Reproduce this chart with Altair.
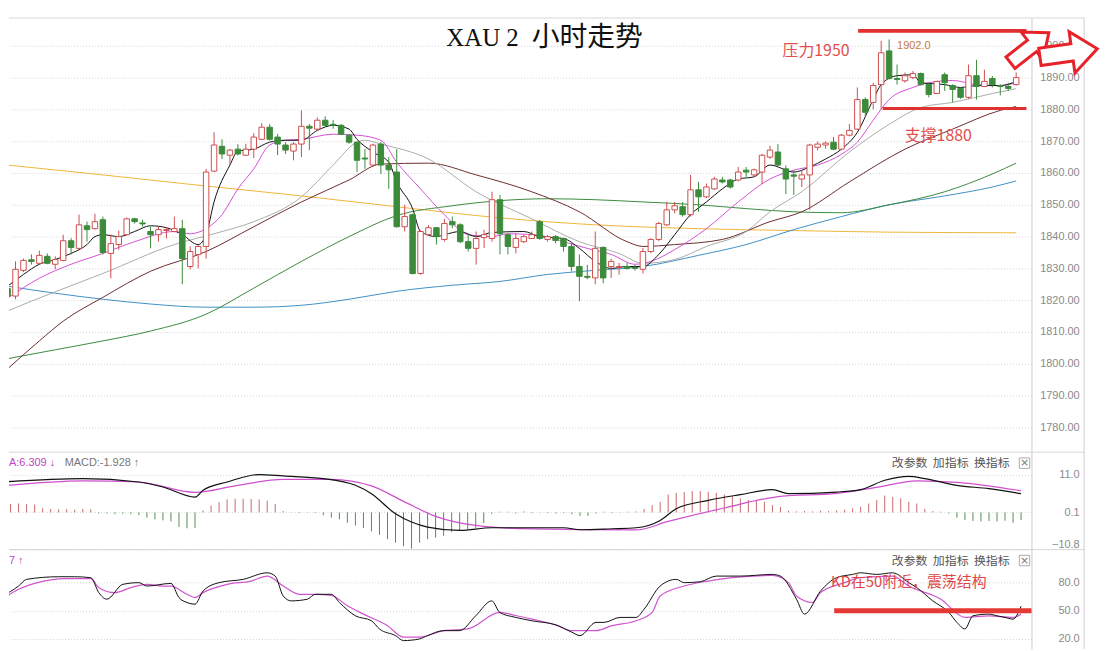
import altair as alt
import pandas as pd

# ---------------- XAU 2h candles ----------------
opens = [1823.7, 1821.3, 1829.4, 1832.7, 1831.6, 1833.8, 1831.3, 1832.5, 1838.7, 1836.3,
         1843.4, 1842.5, 1845.3, 1834.7, 1837.5, 1840.6, 1845.6, 1844.3, 1841.6, 1840.6,
         1841.9, 1841.6, 1842.5, 1830.6, 1834.4, 1836.9, 1860.6, 1868.4, 1865.6, 1867.5,
         1865.6, 1867.5, 1870.6, 1874.4, 1871.3, 1868.8, 1866.9, 1869.1, 1874.7, 1873.8,
         1876.6, 1875.3, 1875.0, 1871.9, 1869.7, 1864.7, 1862.5, 1869.1, 1862.5, 1860.3,
         1843.1, 1846.9, 1828.4, 1840.6, 1842.8, 1839.1, 1844.7, 1843.7, 1838.4, 1836.3,
         1839.7, 1839.4, 1851.6, 1840.6, 1836.6, 1838.4, 1839.4, 1844.7, 1839.1, 1840.0,
         1839.4, 1836.9, 1830.6, 1827.5, 1827.0, 1836.6, 1830.6, 1830.3, 1830.6, 1830.3,
         1829.7, 1835.3, 1839.1, 1843.7, 1848.4, 1849.4, 1846.9, 1854.7, 1852.5, 1855.0,
         1857.8, 1857.8, 1857.8, 1860.9, 1859.4, 1860.3, 1865.0, 1866.6, 1861.3, 1859.4,
         1858.1, 1859.4, 1868.1, 1868.8, 1869.7, 1867.5, 1871.9, 1873.8, 1883.1, 1882.2,
         1887.8, 1898.4, 1889.7, 1889.0, 1890.0, 1891.3, 1887.8, 1885.0, 1890.9, 1887.5,
         1886.6, 1883.8, 1890.6, 1887.2, 1889.7, 1887.5, 1887.2, 1887.8]
highs = [1829.1, 1832.2, 1833.1, 1834.4, 1835.6, 1834.7, 1833.8, 1840.6, 1839.5, 1846.9,
         1844.7, 1847.2, 1846.3, 1840.6, 1841.9, 1846.0, 1845.9, 1845.3, 1843.1, 1843.1,
         1843.0, 1846.3, 1845.3, 1836.9, 1837.4, 1861.3, 1872.8, 1870.6, 1867.6, 1869.1,
         1869.2, 1872.5, 1875.7, 1875.4, 1872.3, 1869.7, 1869.7, 1879.7, 1875.4, 1877.5,
         1877.8, 1876.6, 1875.4, 1872.3, 1869.9, 1867.5, 1869.2, 1869.7, 1865.0, 1867.5,
         1850.0, 1847.2, 1842.0, 1843.6, 1843.0, 1845.6, 1846.3, 1844.2, 1840.5, 1841.6,
         1842.1, 1854.1, 1853.1, 1841.0, 1841.0, 1840.5, 1841.6, 1845.2, 1840.5, 1840.5,
         1839.7, 1837.9, 1834.4, 1831.1, 1841.6, 1836.9, 1833.0, 1831.7, 1831.7, 1831.1,
         1836.4, 1839.5, 1844.7, 1850.9, 1850.9, 1850.9, 1859.4, 1857.2, 1856.7, 1858.8,
         1858.8, 1858.2, 1861.9, 1861.9, 1861.4, 1866.0, 1868.6, 1869.1, 1862.4, 1860.8,
         1860.8, 1869.2, 1869.9, 1869.9, 1871.3, 1872.3, 1875.4, 1886.9, 1883.8, 1888.4,
         1901.6, 1902.0, 1894.1, 1891.6, 1892.1, 1891.6, 1888.4, 1889.0, 1891.6, 1887.9,
         1886.9, 1894.1, 1895.6, 1892.5, 1890.5, 1887.9, 1888.4, 1891.6]
lows = [1819.0, 1820.3, 1828.8, 1831.2, 1831.3, 1831.3, 1829.7, 1832.2, 1834.4, 1836.0,
        1838.4, 1842.2, 1834.4, 1826.9, 1835.9, 1840.3, 1844.1, 1843.1, 1836.3, 1838.4,
        1839.4, 1841.3, 1825.0, 1829.7, 1830.0, 1833.1, 1860.3, 1864.4, 1862.5, 1865.5,
        1865.4, 1864.7, 1870.3, 1870.2, 1865.6, 1866.0, 1864.0, 1865.0, 1867.2, 1873.4,
        1874.4, 1873.9, 1871.9, 1869.2, 1860.3, 1861.3, 1861.9, 1859.7, 1855.0, 1842.8,
        1841.6, 1828.1, 1828.0, 1840.3, 1837.5, 1838.4, 1842.6, 1837.9, 1835.3, 1831.2,
        1836.4, 1838.4, 1834.4, 1834.4, 1834.7, 1838.0, 1839.2, 1839.0, 1838.4, 1837.9,
        1835.3, 1829.1, 1819.7, 1826.6, 1825.0, 1825.3, 1827.0, 1828.0, 1829.6, 1829.3,
        1828.4, 1834.8, 1838.6, 1843.4, 1847.3, 1846.3, 1846.3, 1847.8, 1852.2, 1854.7,
        1856.7, 1855.1, 1857.4, 1858.8, 1858.8, 1856.6, 1864.5, 1862.2, 1853.4, 1853.1,
        1855.6, 1848.4, 1867.1, 1867.6, 1867.2, 1867.1, 1871.5, 1873.5, 1878.0, 1880.0,
        1880.0, 1889.4, 1887.8, 1888.4, 1889.5, 1887.5, 1883.8, 1884.8, 1885.8, 1882.2,
        1883.3, 1883.3, 1883.1, 1887.0, 1886.9, 1884.4, 1885.8, 1887.5]
closes = [1821.3, 1829.7, 1832.5, 1832.2, 1834.1, 1831.6, 1832.8, 1838.7, 1836.6, 1843.7,
          1842.2, 1844.7, 1835.0, 1837.8, 1840.0, 1845.6, 1844.7, 1844.0, 1840.6, 1842.2,
          1842.2, 1842.5, 1833.1, 1835.3, 1836.9, 1860.3, 1868.8, 1866.0, 1867.2, 1866.0,
          1867.5, 1871.3, 1874.4, 1870.6, 1869.1, 1867.2, 1869.1, 1874.7, 1874.1, 1876.6,
          1875.0, 1875.0, 1872.2, 1869.7, 1864.0, 1864.4, 1868.8, 1862.5, 1861.0, 1843.1,
          1846.3, 1828.4, 1841.6, 1842.8, 1840.0, 1844.1, 1843.7, 1838.4, 1836.3, 1839.4,
          1840.6, 1851.6, 1840.9, 1836.9, 1839.4, 1840.0, 1840.6, 1839.4, 1840.0, 1838.8,
          1836.9, 1830.6, 1827.5, 1827.2, 1836.3, 1827.0, 1832.2, 1830.6, 1830.0, 1830.0,
          1835.3, 1839.1, 1844.1, 1848.4, 1849.7, 1846.9, 1854.7, 1852.5, 1855.6, 1858.1,
          1857.2, 1855.6, 1860.3, 1860.3, 1861.0, 1865.6, 1867.2, 1862.5, 1858.1, 1859.0,
          1859.4, 1868.8, 1869.1, 1869.4, 1867.5, 1871.9, 1873.4, 1883.1, 1879.1, 1887.5,
          1897.8, 1889.7, 1889.4, 1890.6, 1891.3, 1887.8, 1884.7, 1888.8, 1888.4, 1886.3,
          1883.8, 1890.6, 1887.2, 1888.8, 1887.8, 1887.2, 1886.6, 1890.0]

# ---------------- moving averages (bar index, value) ----------------
ma_orange_idx = [0, 12, 25, 37, 50, 62, 74, 87, 99, 111, 127]
ma_orange_val = [1862.5, 1859.4, 1855.9, 1852.8, 1849.1, 1845.9, 1843.7, 1842.5, 1841.9, 1841.4, 1841.2]
ma_blue_idx = [0, 6, 12, 18, 25, 31, 37, 43, 49, 56, 62, 68, 74, 80, 87, 93, 99, 105, 111, 118, 124, 127]
ma_blue_val = [1824.4, 1822.2, 1820.3, 1818.8, 1817.8, 1817.8, 1818.4, 1820.3, 1822.8, 1824.7, 1825.9,
               1828.1, 1829.4, 1830.6, 1834.1, 1837.5, 1842.2, 1846.3, 1850.0, 1852.8, 1855.6, 1857.5]
ma_green_idx = [0, 6, 12, 18, 25, 31, 37, 43, 49, 56, 62, 68, 74, 80, 87, 93, 99, 105, 111, 118, 124, 127]
ma_green_val = [1801.6, 1804.4, 1807.2, 1810.3, 1815.6, 1823.8, 1832.2, 1840.0, 1846.6, 1849.7, 1851.3,
                1851.9, 1851.6, 1850.9, 1850.0, 1848.8, 1847.8, 1847.5, 1850.0, 1854.1, 1859.7, 1863.1]
ma_maroon_idx = [0, 4, 7, 12, 18, 25, 31, 37, 43, 47, 53, 59, 66, 72, 78, 80, 84, 90, 96, 100, 106, 113, 119, 125, 127]
ma_maroon_val = [1798.4, 1807.2, 1813.4, 1820.9, 1829.1, 1835.3, 1843.1, 1850.9, 1857.8, 1862.8, 1863.1,
                 1859.4, 1854.1, 1847.8, 1838.4, 1836.9, 1837.5, 1839.1, 1844.7, 1847.8, 1857.2, 1867.5,
                 1873.8, 1879.7, 1880.9]
ma_gray_idx = [0, 3, 12, 21, 26, 31, 37, 41, 44, 45, 47, 53, 59, 66, 72, 77, 80, 84, 88, 93, 96, 100, 106, 111, 115, 119, 124, 127]
ma_gray_val = [1816.6, 1819.7, 1828.4, 1837.5, 1840.9, 1844.7, 1852.5, 1862.5, 1869.7, 1870.3, 1869.1,
               1864.4, 1854.1, 1845.6, 1838.4, 1834.7, 1831.6, 1832.8, 1836.9, 1841.6, 1847.8, 1854.1,
               1866.6, 1875.3, 1880.6, 1882.2, 1885.0, 1886.5]
ma_magenta_idx = [0, 4, 8, 12, 16, 21, 23, 25, 27, 29, 31, 33, 35, 37, 41, 44, 47, 49, 52, 55, 58, 61, 63,
                  68, 70, 73, 76, 79, 81, 84, 88, 92, 96, 99, 102, 105, 107, 109, 111, 114, 116, 119, 122, 125, 127]
ma_magenta_val = [1820.6, 1826.9, 1831.3, 1834.7, 1838.4, 1841.6, 1840.9, 1842.5, 1846.9, 1855.0, 1861.3,
                  1868.8, 1870.3, 1870.6, 1872.2, 1871.9, 1870.3, 1863.4, 1855.0, 1846.9, 1840.6, 1840.0,
                  1840.9, 1840.0, 1838.4, 1836.3, 1834.4, 1831.3, 1832.2, 1835.9, 1842.5, 1850.9, 1858.1,
                  1860.9, 1862.5, 1865.9, 1869.7, 1876.6, 1883.1, 1886.9, 1888.4, 1889.1, 1887.8, 1887.5, 1888.4]
ma_black_idx = [0, 2, 4, 6, 8, 10, 11, 12, 14, 16, 18, 20, 22, 24, 25, 26, 28, 29, 31, 33, 35, 37, 39, 41, 43,
                44, 46, 48, 49, 51, 52, 54, 55, 57, 59, 61, 65, 67, 70, 72, 74, 76, 78, 80, 82, 84, 86, 88, 90,
                92, 94, 96, 99, 101, 103, 105, 107, 109, 110, 112, 114, 115, 118, 120, 122, 125, 127]
ma_black_val = [1824.4, 1828.1, 1831.3, 1832.8, 1834.7, 1837.5, 1840.0, 1840.6, 1840.0, 1841.6, 1843.4,
                1842.8, 1840.6, 1837.5, 1840.6, 1850.9, 1862.5, 1866.9, 1867.5, 1869.7, 1870.3, 1870.3,
                1873.4, 1875.0, 1873.8, 1870.6, 1866.6, 1863.4, 1857.2, 1848.8, 1841.6, 1840.0, 1840.6,
                1841.6, 1840.0, 1841.3, 1841.6, 1840.0, 1839.4, 1836.3, 1832.2, 1830.0, 1830.6, 1830.6,
                1834.4, 1840.6, 1846.9, 1850.9, 1855.0, 1858.1, 1858.8, 1862.5, 1860.3, 1861.9, 1864.4,
                1867.5, 1872.8, 1883.1, 1887.8, 1890.6, 1890.9, 1888.4, 1887.8, 1886.9, 1887.5, 1887.5, 1888.8]

# ---------------- MACD ----------------
macd_hist = [2.6, 2.5, 2.6, 2.4, 2.3,
             1.2, 1.0, 0.9, 1.0, 0.8, 1.0, 0.9,
             -0.3, -0.3, -0.5, -0.4, -0.5, -0.8, -1.5, -2.0, -2.3, -2.6,
             -4.2, -4.6, -4.5,
             0.6,
             2.0, 3.0, 3.8, 4.0, 4.0, 3.9, 3.8, 3.4, 2.5,
             0.4,
             0.1, -0.2, -0.1, -0.2, -0.8, -1.5, -2.0,
             -3.0, -3.8, -4.5, -5.5, -6.5, -7.8, -8.8, -9.8, -10.5,
             -8.8, -7.8, -7.3, -6.8, -5.7, -5.2, -4.9, -4.5, -3.1,
             -0.4, 0.2, 0.2, -0.3, 0.3, -0.2, 0.1, -0.2, -0.3,
             -0.2, -0.5, -1.0, -1.0, -0.3, 0.2, -0.2, 0.1, 0.2, 0.3,
             1.0, 2.1, 3.1, 5.2, 5.7, 5.9, 6.2, 6.2, 6.0, 5.7, 5.2, 4.7, 4.1, 3.6, 3.4, 3.1, 2.1, 1.6,
             0.5, 0.3, 0.4, 0.3, 0.5, 0.4, 0.6, 0.8, 1.2,
             1.6, 2.6, 3.6, 4.9, 4.5, 4.1, 3.1, 2.6, 1.0,
             0.4, 0.2, -0.3,
             -1.5, -2.2, -2.5, -2.6, -2.5, -2.6, -2.4, -3.0, -2.2]
dif_idx = [0, 10, 17, 20, 24, 25, 28, 32, 35, 40, 44, 46, 49, 51, 53, 57, 61, 66, 70, 72, 76, 79, 82, 84,
           88, 92, 96, 98, 104, 107, 110, 113, 115, 119, 123, 127]
dif_val = [8.85, 9.84, 8.85, 7.39, 4.47, 6.43, 8.85, 11.0, 10.6, 9.84, 7.88, 5.46, -0.4, -2.8, -4.27, -5.24,
           -4.45, -4.45, -4.45, -5.03, -4.74, -4.45, -2.32, 1.09, 3.51, 5.17, 6.63, 5.46, 5.93, 6.63, 9.34,
           10.5, 9.84, 7.88, 6.92, 5.46]
dea_idx = [0, 10, 17, 24, 29, 35, 41, 46, 50, 54, 60, 66, 79, 83, 90, 97, 104, 109, 114, 119, 127]
dea_val = [7.71, 9.2, 8.85, 5.84, 7.71, 9.63, 9.63, 7.71, 3.22, -1.15, -4.07, -4.8, -5.09, -2.61, 1.3,
           4.68, 5.55, 7.3, 9.2, 8.76, 6.31]

# ---------------- KD ----------------
k_idx = [0, 2, 3, 7, 9, 11, 12, 13, 15, 17, 18, 21, 22, 23, 24, 25, 27, 30, 33, 34, 35, 36, 38, 39, 41,
         42, 44, 46, 47, 49, 50, 52, 53, 55, 57, 59, 61, 62, 64, 66, 69, 71, 72, 74, 75, 77, 79, 80, 82,
         84, 85, 87, 89, 92, 96, 97, 99, 100, 102, 104, 106, 107, 109, 111, 113, 114, 116, 118, 119, 120,
         121, 123, 124, 125, 126, 127]
k_val = [65.8, 76.4, 83.5, 86.3, 86.3, 85.3, 69.4, 62.4, 78.2, 80, 76.4, 79.2, 64.1, 58.9, 57.1, 71.1,
         80, 83.5, 90.5, 87, 65.8, 60.6, 62.4, 67.6, 67.6, 58.9, 44.7, 39.4, 30.7, 23.6, 18.3, 20.1, 23.6,
         28.9, 28.9, 44.7, 60.6, 48.3, 43, 39.4, 35, 27.2, 23.6, 37.7, 37.7, 43, 43, 51.8, 76.4, 83.5, 80,
         81, 87, 87, 88.8, 87, 62.4, 46.5, 71.1, 85.3, 88.8, 90.5, 88.8, 90.5, 80, 74.7, 60.6, 48.3, 37.7,
         30.7, 44.7, 46.5, 44.7, 43, 41.2, 55]
d_idx = [0, 2, 4, 8, 11, 12, 14, 16, 18, 20, 21, 23, 24, 25, 28, 31, 33, 35, 37, 39, 41, 43, 45, 48, 50,
         52, 55, 58, 62, 64, 66, 69, 71, 74, 76, 79, 81, 82, 85, 88, 91, 96, 98, 99, 101, 102, 105, 107,
         111, 113, 117, 120, 123, 126, 127]
d_val = [62.4, 72.9, 79.2, 84.2, 84.2, 74.7, 69.4, 74.7, 78.2, 76.4, 76.4, 67.6, 64.1, 69.4, 78.2, 81.7,
         87, 76.4, 67.6, 67.6, 66.5, 55.3, 46.5, 34.2, 22, 22, 28.9, 30.7, 48.3, 45, 41.2, 35, 28.9, 28.9,
         34.2, 39.4, 48.3, 65.8, 76.4, 81.7, 85.3, 87.7, 80, 65.8, 58.9, 69.4, 80, 85.3, 87, 76.4, 62.4,
         43, 44.7, 43, 46.5]

# ---------------- axis ticks & annotations ----------------
price_ticks = [1780, 1790, 1800, 1810, 1820, 1830, 1840, 1850, 1860, 1870, 1880, 1890, 1900]
macd_ticks = [11.0, 0.1, -10.8]
kd_ticks = [80.0, 50.0, 20.0]

level_start = [107.1, 110.2]
level_end = [128.3, 128.3]
level_price = [1904.7, 1880.3]
level_width = [4, 3]
note_text = ["压力1950", "支撑1880"]
note_idx = [101.8, 117.2]
note_price = [1898.4, 1871.6]
peak_text = ["1902.0"]
peak_idx = [112.0]
peak_price = [1900.0]
arrow_idx = [128.7, 133.6]
arrow_price = [1899.4, 1897.8]
arrow_angle = [322, 352]
arrow_size = [2400, 3400]
kd_note_text = ["KD在50附近，震荡结构"]
kd_note_idx = [113.0]
kd_note_val = [80.3]
kd_line_start = [103.7]
kd_line_end = [128.3]
kd_line_val = [50.0]

# ---------------- layout ----------------
W = 1029
H_MAIN, H_MACD, H_KD = 437, 98, 100
X_DOM = [0.805, 128.3]
RED = "#cf4f4f"
GREEN = "#3b8b3b"
CJK = "Noto Sans CJK SC"
ONE = pd.DataFrame({"a": [0]})


def xq(field="i"):
    return alt.X(f"{field}:Q", scale=alt.Scale(domain=X_DOM, nice=False, zero=False), axis=None)


def axis(values, fmt, flush=False):
    kw = dict(orient="right", values=values, format=fmt, title=None, ticks=False, tickSize=0,
              labelPadding=48, labelAlign="right", grid=True, gridDash=[1, 2], gridColor="#d4d4d4",
              domainColor="#cccccc", labelColor="#8a8a8a", labelFont="Liberation Sans", labelFontSize=11)
    if flush:
        kw["labelFlush"] = True
    return alt.Axis(**kw)


AX_MAIN = axis(price_ticks, ".2f")
AX_MACD = axis(macd_ticks, ".1f", flush=True)
AX_KD = axis(kd_ticks, ".1f")


def ym(field):
    return alt.Y(f"{field}:Q", scale=alt.Scale(domain=[1772.19, 1908.75], nice=False, zero=False), axis=AX_MAIN)


def ymacd(field):
    return alt.Y(f"{field}:Q", scale=alt.Scale(domain=[-10.8, 17.5], nice=False, zero=False), axis=AX_MACD)


def ykd(field):
    return alt.Y(f"{field}:Q", scale=alt.Scale(domain=[9.4, 115.2], nice=False, zero=False), axis=AX_KD)


def frame(h):
    top = alt.Chart(ONE).mark_rule(color="#d6d6d6", strokeWidth=1).encode(
        x=alt.value(0), x2=alt.value(1082), y=alt.value(0))
    side = alt.Chart(ONE).mark_rule(color="#cfcfcf", strokeWidth=1).encode(
        x=alt.value(1082), y=alt.value(0), y2=alt.value(h))
    return [top, side]


def header(h_left_parts):
    layers = []
    for txt, xpos, col in h_left_parts:
        layers.append(alt.Chart(ONE).mark_text(align="left", baseline="middle", fontSize=11,
                                               font="Liberation Sans, " + CJK, color=col).encode(
            x=alt.value(xpos), y=alt.value(11), text=alt.value(txt)))
    layers.append(alt.Chart(ONE).mark_text(align="right", baseline="middle", fontSize=12, font=CJK,
                                           color="#555555").encode(
        x=alt.value(1007), y=alt.value(11), text=alt.value("改参数\u00a0\u00a0加指标\u00a0\u00a0换指标")))
    layers.append(alt.Chart(ONE).mark_point(shape="square", size=110, filled=False, color="#aaaaaa",
                                            strokeWidth=1, opacity=1).encode(
        x=alt.value(1022), y=alt.value(11)))
    layers.append(alt.Chart(ONE).mark_text(align="center", baseline="middle", fontSize=11,
                                           font="DejaVu Sans", color="#777777").encode(
        x=alt.value(1022), y=alt.value(11), text=alt.value("×")))
    return layers


def series_line(idx, vals, yfun, color, width=1.0):
    df = pd.DataFrame({"i": idx, "v": vals})
    return alt.Chart(df).mark_line(strokeWidth=width, clip=True, interpolate="monotone", color=color).encode(
        x=xq(), y=yfun("v"))


# ---------------- main price panel ----------------
cdf = pd.DataFrame({"i": list(range(len(opens))), "o": opens, "h": highs, "l": lows, "c": closes})
cdf["dir"] = ["up" if c >= o else "down" for o, c in zip(opens, closes)]

ma_layers = [
    series_line(ma_orange_idx, ma_orange_val, ym, "#f0b53a"),
    series_line(ma_blue_idx, ma_blue_val, ym, "#3f8fc6"),
    series_line(ma_green_idx, ma_green_val, ym, "#3a8a3f"),
    series_line(ma_maroon_idx, ma_maroon_val, ym, "#6e2d2d"),
    series_line(ma_gray_idx, ma_gray_val, ym, "#ababab"),
    series_line(ma_magenta_idx, ma_magenta_val, ym, "#d651d6"),
    series_line(ma_black_idx, ma_black_val, ym, "#111111"),
]

candle_base = alt.Chart(cdf)
wick_up = candle_base.transform_filter(alt.datum.dir == "up").mark_rule(
    strokeWidth=1, clip=True, color=RED).encode(x=xq(), y=ym("l"), y2="h:Q")
wick_dn = candle_base.transform_filter(alt.datum.dir == "down").mark_rule(
    strokeWidth=1, clip=True, color=GREEN).encode(x=xq(), y=ym("l"), y2="h:Q")
body_up = candle_base.transform_filter(alt.datum.dir == "up").mark_bar(
    size=5.5, strokeWidth=1, clip=True, fill="#ffffff", stroke=RED).encode(x=xq(), y=ym("o"), y2="c:Q")
body_dn = candle_base.transform_filter(alt.datum.dir == "down").mark_bar(
    size=5.5, strokeWidth=1, clip=True, fill=GREEN, stroke=GREEN).encode(x=xq(), y=ym("o"), y2="c:Q")

lv = pd.DataFrame({"i": level_start, "i2": level_end, "p": level_price, "w": level_width})
levels = alt.Chart(lv).mark_rule(color="#e0302f").encode(
    x=xq(), x2="i2:Q", y=ym("p"), strokeWidth=alt.StrokeWidth("w:Q", scale=None))
notes = alt.Chart(pd.DataFrame({"i": note_idx, "p": note_price, "t": note_text})).mark_text(
    font=CJK, fontSize=16, color="#e05050", baseline="middle", align="center").encode(
    x=xq(), y=ym("p"), text="t:N")
peak = alt.Chart(pd.DataFrame({"i": peak_idx, "p": peak_price, "t": peak_text})).mark_text(
    font="Liberation Sans", fontSize=11, color="#c7783a", align="left", baseline="middle").encode(
    x=xq(), y=ym("p"), text="t:N")
ARROW = "M-1,-0.3L0.12,-0.3L0.12,-0.72L1,0L0.12,0.72L0.12,0.3L-1,0.3Z"
arrows = alt.Chart(pd.DataFrame({"i": arrow_idx, "p": arrow_price, "a": arrow_angle, "s": arrow_size})).mark_point(
    shape=ARROW, filled=True, fill="#ffffff", stroke="#e8222a", strokeWidth=3, opacity=1).encode(
    x=xq(), y=ym("p"), angle=alt.Angle("a:Q", scale=None), size=alt.Size("s:Q", scale=None))
title1 = alt.Chart(ONE).mark_text(font="Liberation Serif", fontSize=25, color="#111111", align="right",
                                  baseline="middle").encode(x=alt.value(513), y=alt.value(20),
                                                            text=alt.value("XAU\u00a02"))
title2 = alt.Chart(ONE).mark_text(font=CJK, fontSize=28, color="#111111", align="left",
                                  baseline="middle").encode(x=alt.value(526), y=alt.value(20),
                                                            text=alt.value("小时走势"))

main = alt.layer(*ma_layers, wick_up, wick_dn, body_up, body_dn, levels, notes, peak, title1, title2,
                 *frame(H_MAIN), arrows).properties(width=W, height=H_MAIN)

# ---------------- MACD panel ----------------
hdf = pd.DataFrame({"i": list(range(len(macd_hist))), "h": macd_hist, "z": [0.0] * len(macd_hist)})
hist_pos = alt.Chart(hdf).transform_filter(alt.datum.h >= 0).mark_rule(
    strokeWidth=1, clip=True, color="#c96a6a").encode(x=xq(), y=ymacd("h"), y2="z:Q")
hist_neg = alt.Chart(hdf).transform_filter(alt.datum.h < 0).mark_rule(
    strokeWidth=1, clip=True, color="#4f8f4f").encode(x=xq(), y=ymacd("h"), y2="z:Q")
dea_line = series_line(dea_idx, dea_val, ymacd, "#cf4fcf", 1.2)
dif_line = series_line(dif_idx, dif_val, ymacd, "#111111", 1.2)
macd = alt.layer(hist_pos, hist_neg, dea_line, dif_line, *frame(H_MACD),
                 *header([("A:6.309 ↓", 0, "#c23fc2"), ("MACD:-1.928 ↑", 56, "#777777")])).properties(
    width=W, height=H_MACD)

# ---------------- KD panel ----------------
d_line = series_line(d_idx, d_val, ykd, "#cf55cf", 1.2)
k_line = series_line(k_idx, k_val, ykd, "#111111", 1.0)
kd_line = alt.Chart(pd.DataFrame({"i": kd_line_start, "i2": kd_line_end, "v": kd_line_val})).mark_rule(
    color="#e53935", strokeWidth=5).encode(x=xq(), x2="i2:Q", y=ykd("v"))
kd_note = alt.Chart(pd.DataFrame({"i": kd_note_idx, "v": kd_note_val, "t": kd_note_text})).mark_text(
    font=CJK, fontSize=15, color="#e04545", align="center", baseline="middle").encode(
    x=xq(), y=ykd("v"), text="t:N")
kd = alt.layer(d_line, k_line, kd_line, kd_note, *frame(H_KD), *header([("7 ↑", 0, "#c23fc2")])).properties(
    width=W, height=H_KD)

chart = alt.vconcat(main, macd, kd, spacing=0, bounds="flush").properties(
    padding={"left": 0, "top": 7, "right": 2, "bottom": 0}
).configure_view(stroke=None)

chart.save("out.html", embed_options={"renderer": "svg", "actions": False})
